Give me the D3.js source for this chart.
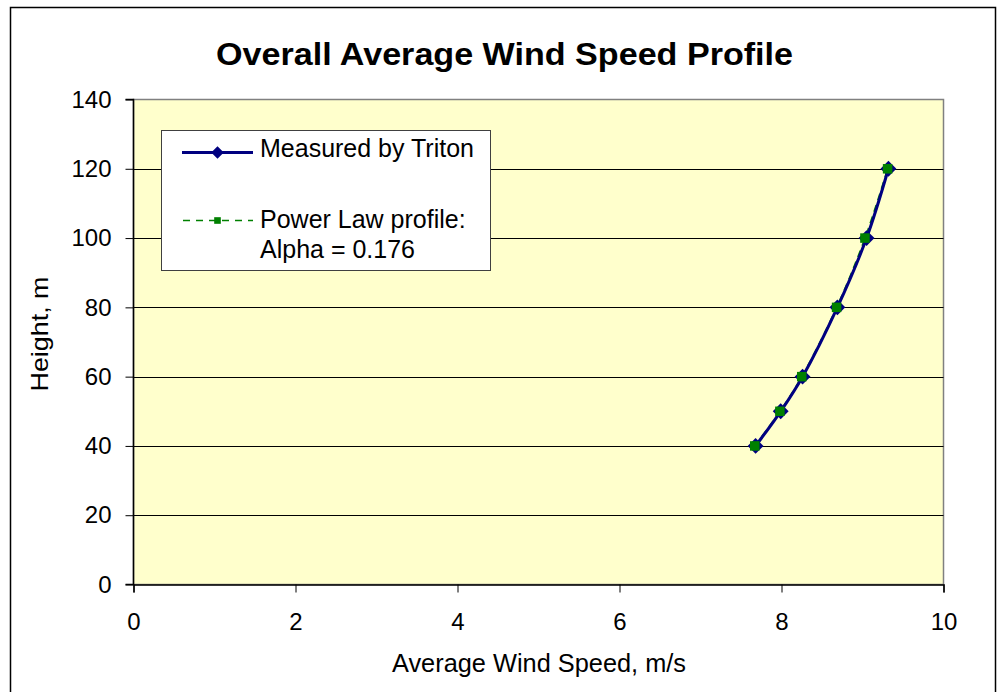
<!DOCTYPE html>
<html>
<head>
<meta charset="utf-8">
<script src="https://cdn.jsdelivr.net/npm/d3@7"></script>
<style>
  body { margin: 0; background: #fff; }
  text { font-family: "Liberation Sans", Arial, sans-serif; fill: #000; }
</style>
</head>
<body>
<script>
const width = 1002;
const height = 692;

// heights (m) and wind speeds (m/s)
const heights = [40, 50, 60, 80, 100, 120];
const measured = [7.68, 7.99, 8.26, 8.69, 9.05, 9.32];
const powerLaw = [7.67, 7.98, 8.25, 8.68, 9.03, 9.31];
const xTicks = [0, 2, 4, 6, 8, 10];
const yTicks = [0, 20, 40, 60, 80, 100, 120, 140];

const plot = { left: 133.5, top: 99.5, right: 943.5, bottom: 584.5 };

const svg = d3.select('body')
  .append('svg')
  .attr('width', width)
  .attr('height', height);

// outer chart border
svg.append('rect')
  .attr('x', 10.5)
  .attr('y', 7.5)
  .attr('width', 985)
  .attr('height', 700)
  .attr('fill', '#fff')
  .attr('stroke', '#000')
  .attr('stroke-width', 1.5);

const x = d3.scaleLinear().domain([0, 10]).range([plot.left, plot.right]);
const y = d3.scaleLinear().domain([0, 140]).range([plot.bottom, plot.top]);

// plot background
svg.append('rect')
  .attr('x', plot.left)
  .attr('y', plot.top)
  .attr('width', plot.right - plot.left)
  .attr('height', plot.bottom - plot.top)
  .attr('fill', '#ffffcc')
  .attr('stroke', '#808080')
  .attr('stroke-width', 1.5);

// gridlines
svg.append('g')
  .selectAll('line')
  .data(yTicks.filter(d => d > 0 && d < 140))
  .join('line')
  .attr('x1', plot.left)
  .attr('x2', plot.right)
  .attr('y1', d => Math.round(y(d)) + 0.5)
  .attr('y2', d => Math.round(y(d)) + 0.5)
  .attr('stroke', '#000')
  .attr('stroke-width', 1);

// axes
const xAxis = svg.append('g')
  .attr('transform', `translate(0, ${plot.bottom})`)
  .call(d3.axisBottom(x).tickValues(xTicks).tickSize(8).tickPadding(20).tickFormat(d3.format('d')));

const yAxis = svg.append('g')
  .attr('transform', `translate(${plot.left}, 0)`)
  .call(d3.axisLeft(y).tickValues(yTicks).tickSize(8).tickPadding(14).tickFormat(d3.format('d')));

[xAxis, yAxis].forEach(a => {
  a.select('.domain').attr('stroke', '#000').attr('stroke-width', 1.5);
  a.selectAll('.tick line').attr('stroke', '#000');
  a.selectAll('.tick text')
    .attr('font-size', 24)
    .attr('font-family', '"Liberation Sans", Arial, sans-serif')
    .attr('fill', '#000');
});
yAxis.select('.domain').attr('d', `M-8,${plot.top}H0V${plot.bottom}H-8`);

// title and axis labels
svg.append('text')
  .attr('x', 504.5)
  .attr('y', 65)
  .attr('text-anchor', 'middle')
  .attr('font-size', 32)
  .attr('font-weight', 'bold')
  .attr('textLength', 577)
  .attr('lengthAdjust', 'spacingAndGlyphs')
  .text('Overall Average Wind Speed Profile');

svg.append('text')
  .attr('x', 539)
  .attr('y', 672)
  .attr('text-anchor', 'middle')
  .attr('font-size', 25)
  .attr('textLength', 294)
  .attr('lengthAdjust', 'spacingAndGlyphs')
  .text('Average Wind Speed, m/s');

svg.append('text')
  .attr('transform', 'translate(48, 334) rotate(-90)')
  .attr('text-anchor', 'middle')
  .attr('font-size', 24)
  .attr('textLength', 115)
  .attr('lengthAdjust', 'spacingAndGlyphs')
  .text('Height, m');

// series
const line = vals => d3.line()
  .x((d, i) => x(vals[i]))
  .y(d => y(d))
  .curve(d3.curveCatmullRom.alpha(0.5))(heights);

const diamond = d3.symbol().type(d3.symbolDiamond2).size(160);
const square = d3.symbol().type(d3.symbolSquare2).size(115);
const legendDiamond = d3.symbol().type(d3.symbolDiamond2).size(100);
const legendSquare = d3.symbol().type(d3.symbolSquare2).size(56);

svg.append('path')
  .attr('d', line(powerLaw))
  .attr('fill', 'none')
  .attr('stroke', '#008000')
  .attr('stroke-width', 1.5)
  .attr('stroke-dasharray', '7,5');

svg.append('path')
  .attr('d', line(measured))
  .attr('fill', 'none')
  .attr('stroke', '#000080')
  .attr('stroke-width', 3);

svg.append('g')
  .selectAll('path')
  .data(heights)
  .join('path')
  .attr('transform', (d, i) => `translate(${x(measured[i])}, ${y(d)})`)
  .attr('d', diamond)
  .attr('fill', '#000080');

svg.append('g')
  .selectAll('path')
  .data(heights)
  .join('path')
  .attr('transform', (d, i) => `translate(${x(powerLaw[i])}, ${y(d)})`)
  .attr('d', square)
  .attr('fill', '#008000');

// legend
const legend = svg.append('g');
legend.append('rect')
  .attr('x', 161.5)
  .attr('y', 130.5)
  .attr('width', 329)
  .attr('height', 140)
  .attr('fill', '#fff')
  .attr('stroke', '#404040')
  .attr('stroke-width', 1);

legend.append('line')
  .attr('x1', 182).attr('x2', 253)
  .attr('y1', 152.5).attr('y2', 152.5)
  .attr('stroke', '#000080')
  .attr('stroke-width', 3);
legend.append('path')
  .attr('transform', 'translate(217.5, 152.5)')
  .attr('d', legendDiamond)
  .attr('fill', '#000080');
legend.append('text')
  .attr('x', 260)
  .attr('y', 157)
  .attr('font-size', 25)
  .text('Measured by Triton');

legend.append('line')
  .attr('x1', 183).attr('x2', 253)
  .attr('y1', 220.5).attr('y2', 220.5)
  .attr('stroke', '#008000')
  .attr('stroke-width', 1.5)
  .attr('stroke-dasharray', '7,6');
legend.append('path')
  .attr('transform', 'translate(217.5, 220.5)')
  .attr('d', legendSquare)
  .attr('fill', '#008000');
legend.append('text')
  .attr('x', 260)
  .attr('y', 228)
  .attr('font-size', 25)
  .text('Power Law profile:');
legend.append('text')
  .attr('x', 260)
  .attr('y', 258)
  .attr('font-size', 25)
  .text('Alpha = 0.176');
</script>
</body>
</html>
